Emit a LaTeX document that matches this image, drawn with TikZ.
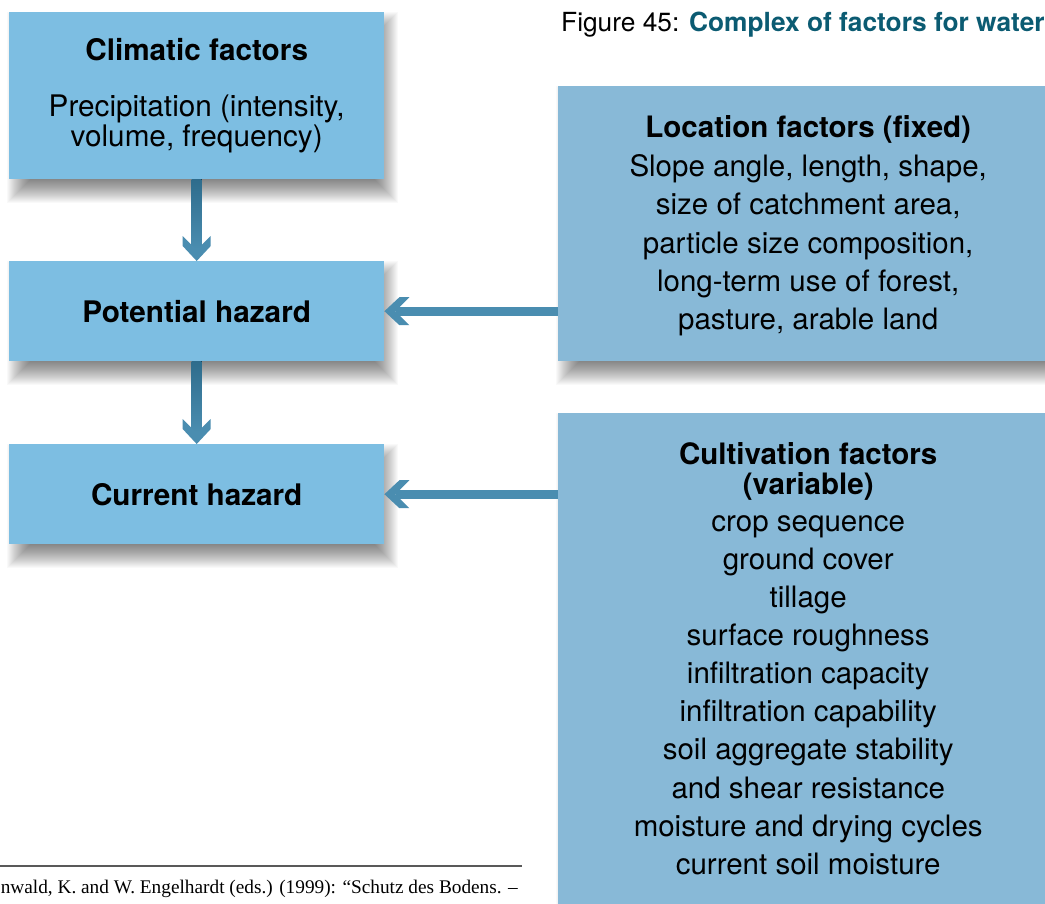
\documentclass[tikz,border=0pt]{standalone}
\usepackage{fontspec}
\setmainfont{TeX Gyre Heros}
\newfontfamily\fnserif{Liberation Serif}
\usetikzlibrary{calc,backgrounds}
\definecolor{lboxc}{HTML}{7DBEE2}
\definecolor{rboxc}{HTML}{88B9D7}
\definecolor{arrc}{HTML}{4A8DB0}
\definecolor{arrdark}{HTML}{2E6C8C}
\definecolor{titleteal}{HTML}{0B5B72}
\newcommand\mydropshadow[1]{%
  \foreach \k in {0,...,25}{%
    \fill[black,opacity=0.025] ($(#1.north west)+(-2+\k,\k)$) rectangle ($(#1.south east)+(14-\k,24-\k)$);
  }}
\begin{document}
\begin{tikzpicture}[x=1pt,y=-1pt,
  leftbox/.style={fill=lboxc,anchor=north west,inner sep=0pt,minimum width=375pt,align=center},
  rightbox/.style={fill=rboxc,anchor=north west,inner sep=0pt,minimum width=500pt,align=center},
  bigfont/.style={font=\fontsize{29.5}{38.4}\selectfont},
  cultfont/.style={font=\fontsize{29.5}{38.1}\selectfont},
  leftfont/.style={font=\fontsize{29.7}{30.5}\selectfont},
  leftboldfont/.style={font=\fontsize{29.7}{30.5}\selectfont\bfseries},
  arrowfill/.style={fill=arrc}]
\useasboundingbox (0,0) rectangle (1045,903);
\clip (0,0) rectangle (1045,903);

% left boxes
\node[leftbox,minimum height=167pt,leftfont] (clim) at (9,12)
  {{\bfseries Climatic factors}\\[25pt]Precipitation (intensity,\\volume, frequency)};
\node[leftbox,minimum height=100pt,leftboldfont] (pot) at (9,261) {Potential hazard};
\node[leftbox,minimum height=100pt,leftboldfont] (cur) at (9,444) {Current hazard};

% right boxes
\node[rightbox,minimum height=275pt,bigfont] (loc) at (558,86)
  {\rule{0pt}{27pt}{\bfseries Location factors (fixed)}\\Slope angle, length, shape,\\size of catchment area,\\particle size composition,\\long-term use of forest,\\pasture, arable land};
\node[rightbox,minimum height=540pt] (cult) at (558,413) {};
\node[cultfont,align=center,anchor=north,inner sep=0pt] (culttext) at ($(cult.north)+(0,29)$)
  {{\bfseries Cultivation factors}\\[-7.5pt]{\bfseries (variable)}\\[-1.5pt]crop sequence\\ground cover\\tillage\\surface roughness\\infiltration capacity\\infiltration capability\\soil aggregate stability\\and shear resistance\\moisture and drying cycles\\current soil moisture};

% shadows and background
\begin{pgfonlayer}{background}
  \fill[white] (0,0) rectangle (1045,903);
  \mydropshadow{clim}
  \mydropshadow{pot}
  \mydropshadow{cur}
  \mydropshadow{loc}
  \mydropshadow{cult}
\end{pgfonlayer}

% vertical connectors
\fill[top color=arrdark,bottom color=arrc] ($(clim.south)+(-5,0)$) rectangle ($(pot.north)+(5,-12)$);
\begin{scope}[shift={(pot.north)}]
  \fill[arrowfill] (-14,-25) -- (0,-11) -- (14,-25) -- (14,-15) -- (0,0) -- (-14,-15) -- cycle;
\end{scope}
\fill[top color=arrdark,bottom color=arrc] ($(pot.south)+(-5,0)$) rectangle ($(cur.north)+(5,-12)$);
\begin{scope}[shift={(cur.north)}]
  \fill[arrowfill] (-14,-25) -- (0,-11) -- (14,-25) -- (14,-15) -- (0,0) -- (-14,-15) -- cycle;
\end{scope}

% horizontal connectors
\fill[arrowfill] ($(pot.east -| loc.west)+(0,-4.5)$) rectangle ($(pot.east)+(12,4.5)$);
\begin{scope}[shift={(pot.east)}]
  \fill[arrowfill] (25,-14) -- (11,0) -- (25,14) -- (15,14) -- (0,0) -- (15,-14) -- cycle;
\end{scope}
\fill[arrowfill] ($(cur.east -| cult.west)+(0,-4.5)$) rectangle ($(cur.east)+(12,4.5)$);
\begin{scope}[shift={(cur.east)}]
  \fill[arrowfill] (25,-14) -- (11,0) -- (25,14) -- (15,14) -- (0,0) -- (15,-14) -- cycle;
\end{scope}

% title
\node[anchor=base west,inner sep=0pt,font=\fontsize{26.3}{30}\selectfont] (title) at (561,31)
  {Figure 45: \textcolor{titleteal}{\bfseries Complex of factors for water}};

% footnote
\coordinate (rulel) at (0,866);
\coordinate (ruler) at (522,866);
\draw[black!65,line width=1.3pt] (rulel) -- (ruler);
\node[anchor=base east,inner sep=0pt,font=\fnserif\fontsize{21}{24}\selectfont] (foot) at (518,893)
  {\resizebox{517pt}{!}{\fontsize{21}{24}\selectfont nwald, K. and W. Engelhardt (eds.) (1999): “Schutz des Bodens. –}};
\end{tikzpicture}
\end{document}
